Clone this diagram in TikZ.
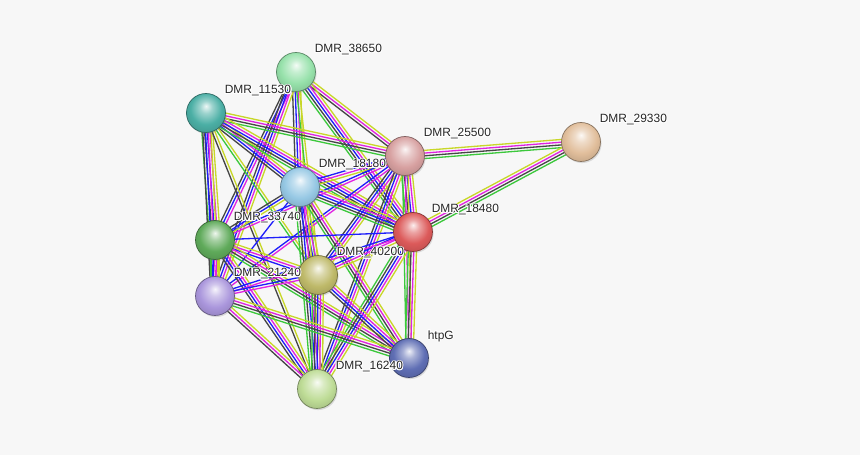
\documentclass[tikz,border=0pt]{standalone}
\usepackage{fontspec}
\setsansfont{Liberation Sans}
\usepackage{contour}
\usepackage{tikz}
\usetikzlibrary{calc,shadows}
\pgfdeclarelayer{bg}
\pgfsetlayers{bg,main}
\contourlength{0.55pt}

\definecolor{sg}{RGB}{60,200,60}
\definecolor{sk}{RGB}{70,70,70}
\definecolor{sb}{RGB}{30,30,250}
\definecolor{sm}{RGB}{225,35,225}
\definecolor{sy}{RGB}{200,215,40}

\definecolor{pa}{RGB}{150,225,170}
\definecolor{pb}{RGB}{75,175,165}
\definecolor{pc}{RGB}{215,160,160}
\definecolor{pk}{RGB}{225,190,155}
\definecolor{pd}{RGB}{150,200,228}
\definecolor{pe}{RGB}{95,170,90}
\definecolor{pf}{RGB}{220,90,90}
\definecolor{pg}{RGB}{190,185,105}
\definecolor{ph}{RGB}{170,150,220}
\definecolor{pi}{RGB}{95,110,180}
\definecolor{pj}{RGB}{190,220,150}

\colorlet{pcol}{gray}
\pgfdeclareradialshading[pcol]{glass}{\pgfqpoint{0bp}{9bp}}{%
  color(0bp)=(pcol!10!white); color(8bp)=(pcol!55!white);
  color(20bp)=(pcol); color(30bp)=(pcol!88!black); color(50bp)=(pcol!60!black)}

\tikzset{
  prot/.style={circle,inner sep=0,minimum size=0.78cm,/utils/exec={\colorlet{pcol}{#1}},shading=glass,
    draw=#1!60!black,line width=0.4pt,
    drop shadow={opacity=0.25,shadow xshift=0.6pt,shadow yshift=-0.9pt}},
  lbl/.style={anchor=west,inner sep=0,font=\sffamily\fontsize{6.8}{8}\selectfont,text=black!85},
  ln/.style={line width=0.75pt}
}

% bundle of parallel evidence lines between two proteins
\newcommand{\strlink}[3]{%
  \foreach \c [count=\n] in {#3} {\xdef\strn{\n}}%
  \foreach \c [count=\i] in {#3} {%
    \pgfmathsetmacro\o{(\i-(\strn+1)/2)*1.55}%
    \draw[ln,\c] ($(#1)!\o pt!90:(#2)$) -- ($(#2)!\o pt!-90:(#1)$);
  }}

\begin{document}
\begin{tikzpicture}[x=0.02cm,y=-0.02cm]
\begin{pgfonlayer}{bg}
  \fill[black!3] (0,0) rectangle (860,455);
\end{pgfonlayer}

\node[prot=pa] (a) at (296,72) {};
\node[prot=pb] (b) at (206,113) {};
\node[prot=pc] (c) at (405,156) {};
\node[prot=pk] (k) at (581,142) {};
\node[prot=pd] (d) at (300,187) {};
\node[prot=pe] (e) at (215,240) {};
\node[prot=pf] (f) at (413,232) {};
\node[prot=pg] (g) at (318,275) {};
\node[prot=ph] (h) at (215,296) {};
\node[prot=pi] (i) at (409,358) {};
\node[prot=pj] (j) at (317,389) {};

\node[lbl] (la) at ($(a)+(18.5,-21.5)$) {\contour{white}{DMR\_38650}};
\node[lbl] (lb) at ($(b)+(18.5,-21.5)$) {\contour{white}{DMR\_11530}};
\node[lbl] (lc) at ($(c)+(18.5,-21.5)$) {\contour{white}{DMR\_25500}};
\node[lbl] (lk) at ($(k)+(18.5,-21.5)$) {\contour{white}{DMR\_29330}};
\node[lbl] (ld) at ($(d)+(18.5,-21.5)$) {\contour{white}{DMR\_18180}};
\node[lbl] (le) at ($(e)+(18.5,-21.5)$) {\contour{white}{DMR\_33740}};
\node[lbl] (lf) at ($(f)+(18.5,-21.5)$) {\contour{white}{DMR\_18480}};
\node[lbl] (lg) at ($(g)+(18.5,-21.5)$) {\contour{white}{DMR\_40200}};
\node[lbl] (lh) at ($(h)+(18.5,-21.5)$) {\contour{white}{DMR\_21240}};
\node[lbl] (li) at ($(i)+(18.5,-21.5)$) {\contour{white}{htpG}};
\node[lbl] (lj) at ($(j)+(18.5,-21.5)$) {\contour{white}{DMR\_16240}};

\begin{pgfonlayer}{bg}
\strlink{a}{c}{sk,sm,sy}
\strlink{a}{f}{sg,sk,sb,sm,sy}
\strlink{a}{d}{sk,sb,sm,sy}
\strlink{a}{e}{sk,sb,sm}
\strlink{a}{h}{sk,sb,sm,sy}
\strlink{a}{g}{sg,sy}
\strlink{b}{e}{sg,sk,sb,sm,sy}
\strlink{b}{h}{sk,sb,sm,sy}
\strlink{b}{c}{sg,sk,sm,sy}
\strlink{b}{d}{sk,sb,sm,sy}
\strlink{b}{f}{sg,sk,sb,sm,sy}
\strlink{b}{g}{sg,sy}
\strlink{b}{j}{sk,sy}
\strlink{c}{k}{sg,sk,sm,sy}
\strlink{f}{k}{sg,sk,sm,sy}
\strlink{c}{d}{sb,sm,sy}
\strlink{c}{e}{sb,sm}
\strlink{c}{f}{sg,sk,sb,sm,sy}
\strlink{c}{g}{sk,sb,sm,sy}
\strlink{c}{j}{sk,sb,sm,sy}
\strlink{c}{i}{sg,sm,sy}
\strlink{c}{h}{sb,sm}
\strlink{d}{e}{sk,sb,sy}
\strlink{d}{f}{sg,sk,sb,sm,sy}
\strlink{d}{g}{sk,sb,sm,sy}
\strlink{d}{j}{sg,sk,sb,sm,sy}
\strlink{d}{i}{sg,sk,sm,sy}
\strlink{d}{h}{sb}
\strlink{e}{f}{sb}
\strlink{e}{g}{sb,sm,sy}
\strlink{e}{h}{sg,sb,sm,sy}
\strlink{e}{i}{sg,sk,sm,sy}
\strlink{e}{j}{sk,sb,sm,sy}
\strlink{f}{g}{sb,sm,sy}
\strlink{f}{h}{sb,sm}
\strlink{f}{i}{sg,sk,sm,sy}
\strlink{f}{j}{sg,sk,sb,sm,sy}
\strlink{g}{h}{sb,sm}
\strlink{g}{i}{sk,sb,sm,sy}
\strlink{g}{j}{sg,sk,sb,sm,sy}
\strlink{h}{i}{sg,sk,sm,sy}
\strlink{h}{j}{sk,sm,sy}
\end{pgfonlayer}
\end{tikzpicture}
\end{document}
